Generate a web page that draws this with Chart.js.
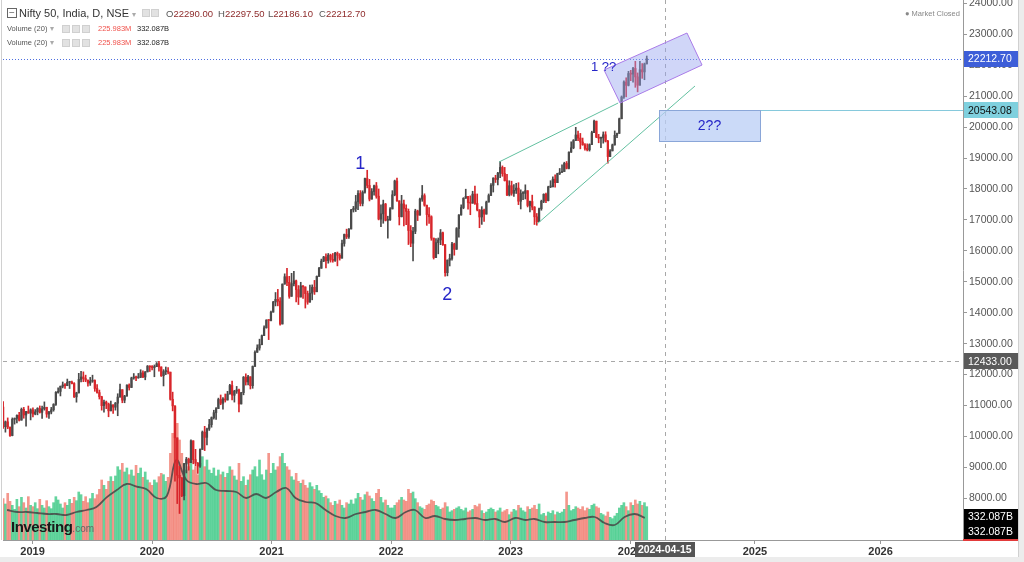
<!DOCTYPE html>
<html>
<head>
<meta charset="utf-8">
<script src="https://cdn.jsdelivr.net/npm/chart.js@4"></script>
<style>
  html, body { margin: 0; padding: 0; background: #ececec; }
  body { width: 1024px; height: 562px; overflow: hidden; font-family: "Liberation Sans", Arial, sans-serif; }
  #wrap { position: absolute; left: 0; top: 0; width: 1019px; height: 557px; background: #fff; }
  #chart { position: absolute; left: 0; top: 0; }
  .t { position: absolute; white-space: nowrap; line-height: 1; }
  .sq { position: absolute; width: 8px; height: 8px; background: #e2e2e2; border: 1px solid #d0d0d0; box-sizing: border-box; }
  .ohlc { color: #555; font-size: 9.5px; }
  .ohlc span { color: #8e2b2b; }
  .vol { font-size: 7.5px; color: #555; }
</style>
</head>
<body>
<div id="wrap">
  <canvas id="chart" width="1019" height="557"></canvas>

  <div class="t" style="left:7px;top:8px;width:10px;height:10px;border:1px solid #666;box-sizing:border-box;font-size:10px;line-height:7px;text-align:center;color:#666;">−</div>
  <div class="t" style="left:19px;top:8px;font-size:11px;color:#333;">Nifty 50, India, D, NSE <span style="color:#aaa;font-size:8px;">▾</span></div>
  <div class="sq" style="left:142px;top:9px;"></div>
  <div class="sq" style="left:151px;top:9px;"></div>
  <div class="t ohlc" style="left:166px;top:9px;">O<span>22290.00</span></div>
  <div class="t ohlc" style="left:218px;top:9px;">H<span>22297.50</span></div>
  <div class="t ohlc" style="left:268px;top:9px;">L<span>22186.10</span></div>
  <div class="t ohlc" style="left:319px;top:9px;">C<span>22212.70</span></div>

  <div class="t vol" style="left:7px;top:25px;">Volume (20) <span style="color:#aaa;">▾</span></div>
  <div class="sq" style="left:62px;top:25px;"></div>
  <div class="sq" style="left:72px;top:25px;"></div>
  <div class="sq" style="left:82px;top:25px;"></div>
  <div class="t vol" style="left:98px;top:25px;color:#f0504a;">225.983M</div>
  <div class="t vol" style="left:137px;top:25px;color:#222;">332.087B</div>

  <div class="t vol" style="left:7px;top:39px;">Volume (20) <span style="color:#aaa;">▾</span></div>
  <div class="sq" style="left:62px;top:39px;"></div>
  <div class="sq" style="left:72px;top:39px;"></div>
  <div class="sq" style="left:82px;top:39px;"></div>
  <div class="t vol" style="left:98px;top:39px;color:#f0504a;">225.983M</div>
  <div class="t vol" style="left:137px;top:39px;color:#222;">332.087B</div>

  <div class="t" style="left:905px;top:10px;font-size:7.5px;color:#888;">● Market Closed</div>

  <div class="t" style="left:11px;top:519px;font-size:15px;font-weight:bold;color:#1a1a1a;letter-spacing:-0.5px;">Investing<span style="font-size:10px;font-weight:normal;color:#666;letter-spacing:0;">.com</span></div>
</div>

<script>
// weekly candles, first week starts Oct 2018 (mid-week dates)
const firstWeek = Date.UTC(2018, 9, 3);
const firstOpen = 10950;

const closes = [
  // 2018
  10316, 10473, 10303, 10030, 10553, 10585, 10682, 10527, 10877, 10694, 10805, 10754, 10860,
  // 2019
  10727, 10795, 10907, 10780, 10894, 10944, 10724, 10791, 10863, 11035, 11427, 11456, 11624,
  11665, 11643, 11752, 11755, 11712, 11279, 11407, 11844, 11923, 11871, 11823, 11724, 11789,
  11811, 11552, 11419, 11284, 10997, 11109, 11048, 10829, 11023, 10946, 11076, 11274, 11512,
  11174, 11305, 11662, 11583, 11890, 11908, 11895, 11914, 12056, 11921, 12087, 12272, 12246,
  // 2020
  12227, 12257, 12352, 12248, 11962, 12098, 12113, 12080, 11202, 10989, 9955, 8745, 8660,
  8084, 9112, 9267, 9155, 9860, 9252, 9137, 9040, 9580, 10142, 9972, 10244, 10383,
  10607, 10768, 10901, 11194, 11073, 11214, 11178, 11372, 11647, 11333, 11464, 11505, 11050,
  11417, 11914, 11762, 11930, 11642, 12264, 12720, 12859, 12969, 13259, 13514, 13761, 13749,
  // 2021
  14018, 14347, 14433, 14372, 13635, 14924, 15163, 14982, 14529, 14938, 15031, 14744, 14507,
  14867, 14834, 14617, 14341, 14631, 14823, 14677, 15175, 15436, 15670, 15799, 15683, 15860,
  15722, 15690, 15924, 15856, 15763, 16238, 16529, 16450, 16705, 17324, 17369, 17585, 17853,
  17532, 17895, 18338, 18114, 17671, 17916, 18102, 17765, 17026, 17196, 17511, 16985, 17003, 17354,
  // 2022
  17812, 18256, 17617, 17102, 17516, 17375, 17276, 16658, 16245, 16630, 17287, 17153,
  17670, 17784, 17476, 17172, 17102, 16411, 15782, 16266, 16352, 16584, 16202, 15294, 15699,
  15752, 16221, 16049, 16719, 17158, 17398, 17698, 17758, 17559, 17539, 17833, 17531, 17327, 17094,
  17315, 17186, 17576, 17787, 18117, 18350, 18307, 18512, 18696, 18497, 18269, 17806, 18105,
  // 2023
  17859, 17956, 18027, 17604, 17854, 17856, 17944, 17466, 17594, 17413, 17100, 16945, 17360,
  17600, 17828, 17624, 18065, 18069, 18315, 18203, 18499, 18534, 18563, 18826, 18665, 19189,
  19332, 19565, 19745, 19646, 19517, 19428, 19310, 19265, 19435, 19820, 20192, 19674, 19638,
  19654, 19751, 19542, 19047, 19230, 19425, 19732, 19795, 20268, 20969, 21457, 21349, 21731,
  // 2024
  21711, 21895, 21622, 21353, 21854, 21783, 22041, 22213
];

const highs = [
  // 2018
  11130, 10500, 10600, 10270, 10600, 10600, 10700, 10780, 10920, 10940, 10815, 10985, 10895,
  // 2019
  10923, 10870, 10930, 10987, 10983, 11118, 10900, 10810, 10940, 11060, 11450, 11570, 11630,
  11761, 11710, 11856, 11760, 11789, 11740, 11430, 12041, 12103, 12088, 11982, 11820, 11910,
  11981, 11830, 11680, 11500, 11300, 11180, 11145, 11080, 11142, 11000, 11100, 11381, 11695,
  11490, 11330, 11670, 11700, 11917, 12034, 11950, 12038, 12158, 12120, 12100, 12294, 12285,
  // 2020
  12294, 12311, 12389, 12430, 12250, 12160, 12246, 12225, 12017, 11433, 10751, 9700, 9038,
  8673, 9131, 9324, 9300, 9890, 9450, 9584, 9160, 9600, 10177, 10328, 10272, 10553,
  10632, 10848, 10933, 11239, 11341, 11256, 11373, 11460, 11686, 11794, 11493, 11618, 11535,
  11428, 11939, 12025, 11975, 11929, 12280, 12770, 12963, 13145, 13280, 13580, 13773, 13777,
  // 2021
  14050, 14367, 14653, 14754, 14491, 14932, 15257, 15432, 15176, 15273, 15336, 15051, 14878,
  14984, 14880, 14697, 14700, 14895, 14900, 15044, 15189, 15469, 15733, 15823, 15901, 15915,
  15893, 15915, 15952, 15962, 15910, 16350, 16543, 16701, 16722, 17340, 17436, 17792, 17947,
  17947, 17941, 18350, 18604, 18310, 18012, 18123, 18210, 18000, 17490, 17639, 17533, 17119, 17400,
  // 2022
  17945, 18286, 18351, 17600, 17794, 17639, 17490, 17352, 16815, 16757, 17344, 17315,
  17703, 18114, 17843, 17414, 17400, 17132, 16404, 16400, 16414, 16690, 16610, 15900, 15707,
  15892, 16275, 16248, 16752, 17172, 17490, 17719, 17992, 17726, 17777, 17925, 18096, 17838, 17188,
  17428, 17348, 17607, 17838, 18176, 18362, 18442, 18534, 18888, 18745, 18697, 18473, 18265,
  // 2023
  18251, 18141, 18183, 18202, 17972, 17916, 18134, 17924, 17610, 17800, 17430, 17207, 17381,
  17638, 17843, 17863, 18089, 18267, 18389, 18459, 18508, 18662, 18778, 18864, 18887, 19201,
  19524, 19596, 19992, 19868, 19795, 19645, 19465, 19458, 19458, 19867, 20222, 20155, 19766,
  19674, 19843, 19849, 19575, 19276, 19451, 19875, 19806, 20291, 21006, 21492, 21593, 21801,
  // 2024
  21834, 21928, 22124, 21750, 22127, 22053, 22069, 22297
];

const lows = [
  // 2018
  10262, 10139, 10250, 10005, 10020, 10400, 10440, 10500, 10540, 10590, 10333, 10750, 10535,
  // 2019
  10630, 10700, 10700, 10757, 10583, 10850, 10620, 10585, 10730, 10817, 11000, 11400, 11310,
  11570, 11550, 11640, 11550, 11700, 11260, 11108, 11500, 11760, 11770, 11770, 11625, 11650,
  11750, 11460, 11400, 11210, 10850, 10782, 10900, 10637, 10850, 10746, 10850, 10670, 11420,
  11090, 11090, 11300, 11500, 11620, 11850, 11800, 11880, 11900, 11900, 11832, 12090, 12100,
  // 2020
  12150, 11930, 12290, 12110, 11940, 11633, 12000, 12020, 11175, 10827, 8555, 7832, 7511,
  8055, 7950, 8822, 8910, 9250, 9117, 9050, 8806, 9000, 9770, 9544, 9726, 10194,
  10299, 10562, 10555, 10983, 11026, 10882, 11112, 11246, 11372, 11185, 11111, 11393, 10790,
  11184, 11347, 11661, 11670, 11535, 11557, 12300, 12730, 12790, 12962, 13300, 13500, 13131,
  // 2021
  13735, 14100, 14220, 14222, 13597, 13662, 14977, 14870, 14467, 14635, 14862, 14350, 14264,
  14617, 14459, 14151, 14273, 14400, 14416, 14591, 14700, 15200, 15450, 15650, 15450, 15600,
  15635, 15632, 15660, 15514, 15700, 15834, 16150, 16395, 16400, 16764, 17254, 17270, 17327,
  17452, 17452, 17864, 18034, 17613, 17697, 17798, 17700, 17000, 16782, 16891, 16966, 16410, 16980,
  // 2022
  17384, 17779, 17600, 16836, 17096, 16809, 16843, 16203, 16133, 15671, 16555, 16978,
  17200, 17600, 17442, 16824, 16888, 16341, 15735, 15900, 15903, 16200, 16172, 15183, 15191,
  15511, 15700, 15859, 16143, 16438, 17154, 17360, 17710, 17345, 17167, 17588, 17497, 17291, 16747,
  16855, 16950, 17186, 17576, 17800, 17900, 18209, 18133, 18365, 18410, 18255, 17780, 17774,
  // 2023
  17796, 17760, 17853, 17493, 17353, 17652, 17677, 17418, 17255, 17324, 16851, 16828, 16940,
  17312, 17556, 17553, 17612, 18042, 18100, 18060, 18250, 18464, 18535, 18564, 18647, 18646,
  19180, 19300, 19562, 19563, 19296, 19412, 19257, 19229, 19224, 19433, 19822, 19657, 19493,
  19333, 19480, 19518, 18837, 19057, 19329, 19414, 19656, 19858, 20507, 20923, 20977, 21329,
  // 2024
  21500, 21448, 21285, 21137, 21429, 21575, 21530, 22045
];

// weekly volume, in B
const volumes = [
  // 2018
  620, 540, 700, 580, 520, 460, 610, 500, 640, 560, 480, 650, 520,
  // 2019
  500, 560, 470, 610, 520, 480, 590, 500, 470, 560, 650, 600, 540,
  480, 560, 520, 610, 550, 640, 590, 720, 680, 580, 650, 560, 620,
  700, 620, 680, 760, 900, 820, 760, 880, 950, 880, 960, 1100, 1050,
  1150, 1020, 1080, 980, 1050, 960, 1120, 1000, 1080, 940, 1020, 900, 860,
  // 2020
  820, 900, 860, 950, 1000, 980, 880, 940, 1300, 1600, 2000, 1750, 1500,
  1300, 1150, 1050, 1100, 1200, 1050, 1100, 980, 1150, 1250, 1100, 1200, 1050,
  1000, 1080, 960, 1050, 980, 1020, 940, 1000, 1100, 1050, 960, 900, 1150,
  880, 950, 820, 900, 980, 1050, 1100, 950, 1200, 980, 900, 1050, 1300,
  // 2021
  1000, 1150, 1050, 1100, 1250, 1300, 1150, 1100, 1050, 950, 900, 1000, 880,
  850, 900, 820, 780, 860, 800, 760, 820, 740, 700, 640, 660, 620,
  560, 520, 580, 540, 600, 520, 480, 560, 540, 600, 540, 620, 700,
  640, 600, 680, 720, 660, 620, 580, 700, 760, 640, 560, 600, 520, 480,
  // 2022
  480, 520, 560, 600, 640, 600, 580, 760, 700, 720, 620, 560,
  500, 480, 460, 520, 540, 600, 580, 520, 500, 460, 480, 560, 500,
  420, 440, 460, 480, 500, 460, 440, 480, 420, 440, 460, 520, 500, 540,
  440, 400, 420, 460, 480, 460, 420, 440, 480, 420, 440, 460, 380,
  // 2023
  420, 460, 440, 520, 480, 440, 420, 500, 460, 480, 520, 460, 540,
  380, 400, 360, 420, 400, 440, 380, 420, 400, 420, 460, 720, 520,
  440, 460, 500, 480, 460, 500, 440, 480, 460, 520, 540, 500, 480,
  400, 380, 360, 420, 340, 320, 360, 400, 480, 520, 560, 500, 440,
  // 2024
  560, 520, 600, 540, 580, 520, 560, 500
];

// Volume (20) average, one reading per month from Oct 2018, in B
const firstMonth = [2018, 9];
const volumeAvg = [
  450, 420, 420,
  405, 390, 390, 375, 420, 450, 495, 640, 750, 840, 800, 760,
  630, 660, 1200, 900, 840, 855, 750, 735, 720, 630, 690, 630,
  720, 780, 630, 570, 555, 450, 360, 330, 390, 420, 450, 390,
  330, 420, 450, 330, 360, 315, 300, 315, 330, 300, 315, 270,
  330, 300, 315, 270, 270, 270, 300, 330, 345, 255, 225, 345,
  390, 332
];

const yearLabels = ["2019", "2020", "2021", "2022", "2023", "2024", "2025", "2026"];
const priceTicks = [8000, 9000, 10000, 11000, 12000, 13000, 14000, 15000, 16000,
  17000, 18000, 19000, 20000, 21000, 22000, 23000, 24000];

const lastClose = 22212.70;
const resistance = 20543.08;
const crossPrice = 12433.00;
const crossDate = "2024-04-15";

// positions on the time axis are in years; past the last bar the axis is spaced by weekdays
const lastBarPos = 2024.15;
const futureStretch = 1.052;
const crossPos = 2024.29;

function yearPos(t) {
  const d = new Date(t);
  const y = d.getUTCFullYear();
  const a = Date.UTC(y, 0, 1), b = Date.UTC(y + 1, 0, 1);
  return y + (t - a) / (b - a);
}

function tickPos(y) {
  return y <= 2024 ? y : lastBarPos + (y - lastBarPos) * futureStretch;
}

const UP = "#4a4a4a";
const DOWN = "#d8262b";

const candles = closes.map((c, i) => {
  const o = i === 0 ? firstOpen : closes[i - 1];
  return {
    x: yearPos(firstWeek + i * 7 * 864e5),
    o: o, c: c,
    h: Math.max(highs[i], o, c),
    l: Math.min(lows[i], o, c),
  };
});

const wickData = candles.map((k) => ({ x: k.x, y: [k.l, k.h] }));
const bodyData = candles.map((k) => ({ x: k.x, y: [Math.min(k.o, k.c), Math.max(k.o, k.c)] }));
const candleColor = candles.map((k) => (k.c >= k.o ? UP : DOWN));
const volData = volumes.map((v, i) => ({ x: candles[i].x, y: v }));
const volColor = candles.map((k) =>
  k.c >= k.o ? "rgba(40, 196, 120, 0.72)" : "rgba(240, 110, 96, 0.72)"
);
const avgData = volumeAvg.map((v, i) => ({
  x: yearPos(Date.UTC(firstMonth[0], firstMonth[1] + i, 15)),
  y: v,
}));

// drawings on top of the chart (in axis units: years / price)
const channelBox = [[2023.782, 21845], [2024.476, 23040], [2024.602, 22006], [2023.916, 20778]];
const upperTrend = [[2022.903, 18871], [2023.900, 20778]];
const lowerTrend = [[2023.221, 16867], [2024.543, 21327]];
const targetBox = { x0: 2024.242, x1: 2025.087, top: resistance, bottom: 19550 };

function tag(ctx, area, y, text, bg, fg) {
  ctx.fillStyle = bg;
  ctx.fillRect(area.right + 1, Math.round(y - 8), 54, 16);
  ctx.fillStyle = fg;
  ctx.font = "10.5px 'Liberation Sans', Arial";
  ctx.textAlign = "left";
  ctx.textBaseline = "middle";
  ctx.fillText(text, area.right + 5, y + 0.5);
}

const drawings = {
  id: "drawings",
  beforeDatasetsDraw(chart) {
    const { ctx, chartArea: a, scales } = chart;
    const X = (v) => scales.x.getPixelForValue(v);
    const Y = (v) => scales.y.getPixelForValue(v);
    ctx.save();
    ctx.lineWidth = 1;
    // crosshair
    ctx.strokeStyle = "#a8a8a8";
    ctx.setLineDash([4, 4]);
    ctx.beginPath();
    ctx.moveTo(a.left, Math.round(Y(crossPrice)) + 0.5);
    ctx.lineTo(a.right, Math.round(Y(crossPrice)) + 0.5);
    ctx.moveTo(Math.round(X(crossPos)) + 0.5, a.top);
    ctx.lineTo(Math.round(X(crossPos)) + 0.5, a.bottom);
    ctx.stroke();
    // last price line
    ctx.strokeStyle = "#4d6ee0";
    ctx.setLineDash([1, 2]);
    ctx.beginPath();
    ctx.moveTo(a.left, Math.round(Y(lastClose)) + 0.5);
    ctx.lineTo(a.right, Math.round(Y(lastClose)) + 0.5);
    ctx.stroke();
    ctx.restore();
  },
  afterDatasetsDraw(chart) {
    const { ctx, chartArea: a, scales } = chart;
    const X = (v) => scales.x.getPixelForValue(v);
    const Y = (v) => scales.y.getPixelForValue(v);
    ctx.save();

    // resistance line
    ctx.strokeStyle = "#86c9dc";
    ctx.lineWidth = 1;
    ctx.beginPath();
    ctx.moveTo(X(targetBox.x1), Math.round(Y(resistance)) + 0.5);
    ctx.lineTo(a.right, Math.round(Y(resistance)) + 0.5);
    ctx.stroke();

    // wedge lines
    ctx.strokeStyle = "#62c0a0";
    [upperTrend, lowerTrend].forEach((ln) => {
      ctx.beginPath();
      ctx.moveTo(X(ln[0][0]), Y(ln[0][1]));
      ctx.lineTo(X(ln[1][0]), Y(ln[1][1]));
      ctx.stroke();
    });

    // channel box
    ctx.beginPath();
    channelBox.forEach((p, i) => {
      if (i === 0) ctx.moveTo(X(p[0]), Y(p[1]));
      else ctx.lineTo(X(p[0]), Y(p[1]));
    });
    ctx.closePath();
    ctx.fillStyle = "rgba(150, 165, 240, 0.45)";
    ctx.fill();
    ctx.strokeStyle = "#a97be8";
    ctx.stroke();

    // target box
    const bx = X(targetBox.x0), by = Y(targetBox.top);
    const bw = X(targetBox.x1) - bx, bh = Y(targetBox.bottom) - by;
    ctx.fillStyle = "rgba(185, 205, 245, 0.75)";
    ctx.fillRect(bx, by, bw, bh);
    ctx.strokeStyle = "#8aa6d8";
    ctx.strokeRect(Math.round(bx) + 0.5, Math.round(by) + 0.5, Math.round(bw), Math.round(bh));

    // labels
    ctx.fillStyle = "#2626c8";
    ctx.textAlign = "center";
    ctx.textBaseline = "middle";
    ctx.font = "13px 'Liberation Sans', Arial";
    ctx.fillText("1 ??", X(2023.778), Y(21942));
    ctx.font = "14px 'Liberation Sans', Arial";
    ctx.fillText("2??", bx + bw / 2, by + bh / 2 + 1);
    ctx.font = "18px 'Liberation Sans', Arial";
    ctx.fillText("1", X(2021.741), Y(18807));
    ctx.fillText("2", X(2022.469), Y(14573));
    ctx.restore();
  },
  afterDraw(chart) {
    const { ctx, chartArea: a, scales } = chart;
    const Y = (v) => scales.y.getPixelForValue(v);
    const X = (v) => scales.x.getPixelForValue(v);
    ctx.save();
    // left border
    ctx.strokeStyle = "#d0d0d0";
    ctx.beginPath();
    ctx.moveTo(1.5, 0);
    ctx.lineTo(1.5, a.bottom);
    ctx.stroke();
    // right border
    ctx.beginPath();
    ctx.moveTo(chart.width - 0.5, 0);
    ctx.lineTo(chart.width - 0.5, chart.height);
    ctx.stroke();

    tag(ctx, a, Y(lastClose), lastClose.toFixed(2), "#3d5ed8", "#ffffff");
    tag(ctx, a, Y(resistance), resistance.toFixed(2), "#7fd0de", "#111111");
    tag(ctx, a, Y(crossPrice), crossPrice.toFixed(2), "#5a5a5a", "#ffffff");
    const vy = scales.yv.getPixelForValue(volumeAvg[volumeAvg.length - 1]);
    tag(ctx, a, vy - 1, "332.087B", "#000000", "#ffffff");
    tag(ctx, a, vy + 14, "332.087B", "#000000", "#ffffff");

    ctx.strokeStyle = "#e23a3a";
    ctx.lineWidth = 2;
    ctx.beginPath();
    ctx.moveTo(a.right, a.bottom);
    ctx.lineTo(chart.width - 1, a.bottom);
    ctx.stroke();

    // date tag on the time axis
    const cx = X(crossPos);
    ctx.fillStyle = "#555555";
    ctx.fillRect(Math.round(cx - 30), a.bottom + 2, 60, 16);
    ctx.fillStyle = "#ffffff";
    ctx.font = "bold 10.5px 'Liberation Sans', Arial";
    ctx.textAlign = "center";
    ctx.textBaseline = "middle";
    ctx.fillText(crossDate, cx, a.bottom + 10.5);
    ctx.restore();
  },
};

const ctx = document.getElementById("chart");
new Chart(ctx, {
  type: "bar",
  data: {
    datasets: [
      {
        data: bodyData,
        backgroundColor: candleColor,
        barThickness: 1.6,
        minBarLength: 1,
        grouped: false,
        order: 0,
      },
      {
        data: wickData,
        backgroundColor: candleColor,
        barThickness: 1,
        grouped: false,
        order: 1,
      },
      {
        type: "line",
        data: avgData,
        yAxisID: "yv",
        borderColor: "rgba(70, 70, 70, 0.85)",
        borderWidth: 1.8,
        pointRadius: 0,
        tension: 0.4,
        order: 2,
      },
      {
        data: volData,
        yAxisID: "yv",
        backgroundColor: volColor,
        barThickness: 2,
        grouped: false,
        order: 3,
      },
    ],
  },
  options: {
    responsive: false,
    animation: false,
    events: [],
    layout: { padding: { left: 3, top: 0, right: 0, bottom: 0 } },
    plugins: {
      legend: { display: false },
      tooltip: { enabled: false },
    },
    scales: {
      x: {
        type: "linear",
        offset: false,
        min: 2018.7523,
        max: 2026.7857,
        grid: { display: true, drawOnChartArea: false, tickLength: 4, color: "#999", offset: false },
        border: { display: true, color: "#999" },
        afterBuildTicks: (axis) => {
          axis.ticks = yearLabels.map((y) => ({ value: tickPos(Number(y)) }));
        },
        afterFit: (axis) => {
          axis.height = 17;
          axis.paddingLeft = 0;
          axis.paddingRight = 0;
        },
        ticks: {
          autoSkip: false,
          maxRotation: 0,
          padding: 1,
          color: "#333",
          font: { family: "'Liberation Sans', Arial", size: 11, weight: "bold" },
          callback: (value, index) => yearLabels[index],
        },
      },
      y: {
        position: "right",
        min: 6654,
        max: 24107,
        grid: { display: true, drawOnChartArea: false, tickLength: 4, color: "#999" },
        border: { display: true, color: "#999" },
        afterBuildTicks: (axis) => {
          axis.ticks = priceTicks.map((v) => ({ value: v }));
        },
        afterFit: (axis) => {
          axis.width = 56;
          axis.paddingTop = 0;
          axis.paddingBottom = 0;
        },
        ticks: {
          padding: 2,
          color: "#555",
          font: { family: "'Liberation Sans', Arial", size: 10.5 },
          callback: (value) => Number(value).toFixed(2),
        },
      },
      yv: {
        display: false,
        min: 0,
        max: 8100,
      },
    },
  },
  plugins: [drawings],
});
</script>
</body>
</html>
